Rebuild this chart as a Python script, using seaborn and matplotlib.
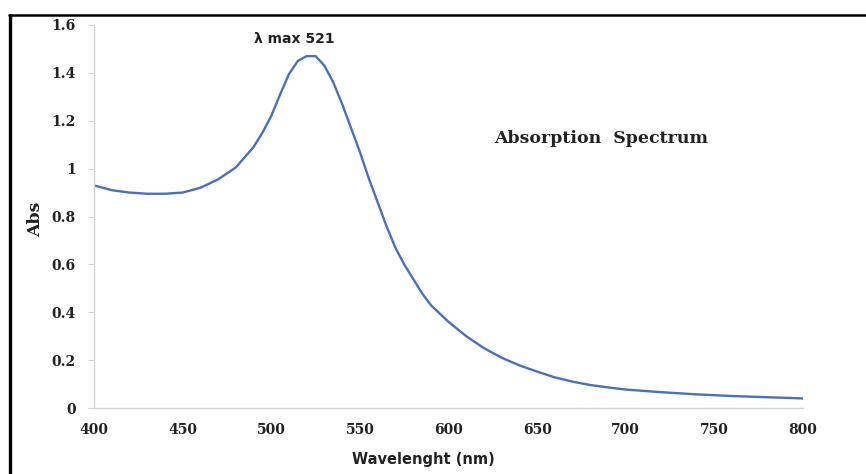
import numpy as np
import pandas as pd
import matplotlib
matplotlib.use("Agg")
import matplotlib.pyplot as plt
from matplotlib.lines import Line2D
import seaborn as sns

wavelength = [400, 410, 420, 430, 440, 450, 460, 470, 480, 490, 495, 500, 505, 510, 515,
              520, 525, 530, 535, 540, 545, 550, 555, 560, 565, 570, 575, 580, 585, 590, 595,
              600, 610, 620, 630, 640, 650, 660, 670, 680, 690, 700, 720, 740, 760, 780, 800]
absorbance = [0.93, 0.91, 0.90, 0.895, 0.895, 0.90, 0.92, 0.955, 1.005, 1.09, 1.15, 1.22, 1.31, 1.395, 1.45,
              1.47, 1.47, 1.43, 1.36, 1.27, 1.17, 1.07, 0.96, 0.86, 0.76, 0.67, 0.60, 0.54, 0.48, 0.43, 0.395,
              0.36, 0.30, 0.25, 0.21, 0.178, 0.152, 0.128, 0.11, 0.096, 0.086, 0.077, 0.066, 0.057, 0.050, 0.045, 0.040]
x_ticks = [400, 450, 500, 550, 600, 650, 700, 750, 800]
y_ticks = [0, 0.2, 0.4, 0.6, 0.8, 1.0, 1.2, 1.4, 1.6]
y_tick_labels = ["0", "0.2", "0.4", "0.6", "0.8", "1", "1.2", "1.4", "1.6"]

df = pd.DataFrame({"Wavelength": wavelength, "Abs": absorbance})

sns.set_style("white")
plt.rcParams["font.family"] = ["DejaVu Sans"]

fig = plt.figure(figsize=(8.66, 4.74), dpi=100)
ax = fig.add_axes([94 / 866, 1 - 408 / 474, (803 - 94) / 866, (408 - 25) / 474])

sns.lineplot(data=df, x="Wavelength", y="Abs", ax=ax, color="#4a70b6", linewidth=1.7)
for ln in ax.lines:
    ln.set_solid_joinstyle("round")
    ln.set_solid_capstyle("round")

ax.set_xlim(400, 800)
ax.set_ylim(0, 1.6)
ax.set_xticks(x_ticks)
ax.set_yticks(y_ticks)
ax.set_yticklabels(y_tick_labels)

for lab in ax.get_xticklabels() + ax.get_yticklabels():
    lab.set_fontfamily("DejaVu Serif")
    lab.set_fontweight("bold")
    lab.set_fontsize(10)
    lab.set_color("#222222")

for side in ["top", "right"]:
    ax.spines[side].set_visible(False)
for side in ["left", "bottom"]:
    ax.spines[side].set_color("#d4d4d4")
    ax.spines[side].set_linewidth(1.0)

ax.tick_params(axis="y", which="major", length=4, color="#d4d4d4", direction="out", pad=9, left=True)
ax.tick_params(axis="x", which="major", length=0, pad=11)

ax.set_xlabel("Wavelenght (nm)", fontfamily="DejaVu Sans", fontweight="bold", fontsize=10.5, color="#222222")
ax.xaxis.set_label_coords(0.464, -0.115)
ax.set_ylabel("Abs", fontfamily="DejaVu Serif", fontweight="bold", fontsize=12.5, color="#222222")
ax.yaxis.set_label_coords(-0.07, 0.493)

ax.text(513, 1.54, "λ max 521", fontfamily="DejaVu Sans", fontweight="bold", fontsize=10,
        ha="center", va="center", color="#222222")
ax.text(686, 1.124, "Absorption  Spectrum", fontfamily="DejaVu Serif", fontweight="bold", fontsize=12.5,
        ha="center", va="center", color="#222222")

# frame border
fig.add_artist(Line2D([9 / 866, 1.0], [1 - 15 / 474, 1 - 15 / 474], color="black", linewidth=1.8,
                      transform=fig.transFigure))
fig.add_artist(Line2D([9.5 / 866, 9.5 / 866], [0, 1 - 15 / 474], color="black", linewidth=2.4,
                      transform=fig.transFigure))

fig.savefig("out.png", dpi=100, facecolor="white")
